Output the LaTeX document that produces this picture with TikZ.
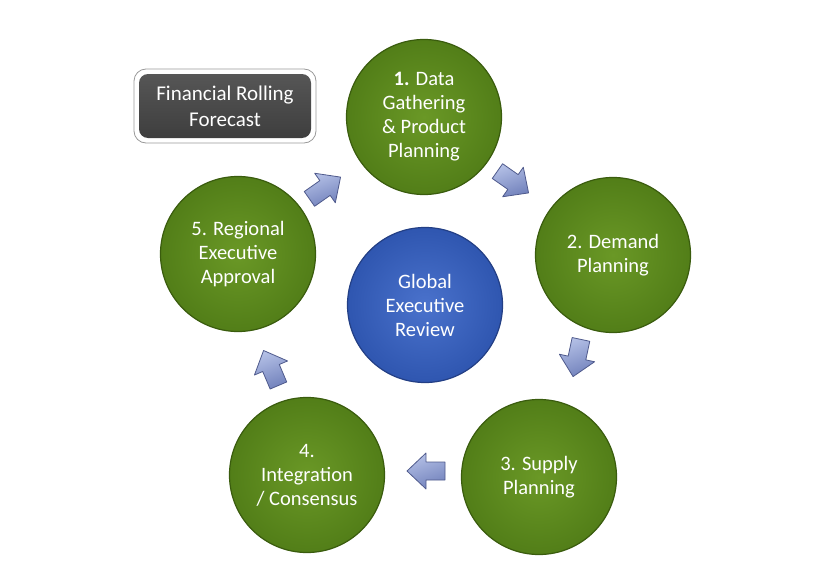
\documentclass[tikz,border=0pt]{standalone}
\usepackage{fontspec}
\setmainfont{Carlito}
\definecolor{grnin}{HTML}{6A9826}
\definecolor{grnout}{HTML}{527E18}
\definecolor{grnline}{HTML}{3A5C0E}
\definecolor{bluin}{HTML}{4A72CC}
\definecolor{bluout}{HTML}{2F56B0}
\definecolor{bluline}{HTML}{233F85}
\definecolor{arrlight}{HTML}{B4C0E6}
\definecolor{arrdark}{HTML}{7282BC}
\definecolor{arrline}{HTML}{4F5A8C}
\definecolor{boxdark}{HTML}{3E3E3E}
\definecolor{boxlight}{HTML}{565656}
\tikzset{
  stepcircle/.style={circle, minimum size=155pt, inner sep=0pt, align=center,
    text=white, font=\fontsize{20.5}{24}\selectfont,
    inner color=grnin, outer color=grnout, draw=grnline, line width=1.2pt},
  hubcircle/.style={stepcircle, inner color=bluin, outer color=bluout, draw=bluline},
  blockarrow/.pic={
    \draw[line width=0.8pt, draw=arrline, top color=arrlight, bottom color=arrdark, shading angle=20, line join=round]
      (-19,-9) -- (0,-9) -- (0,-18) -- (19,0) -- (0,18) -- (0,9) -- (-19,9) -- cycle;
  }
}
\begin{document}
\begin{tikzpicture}[x=1pt, y=-1pt]
\useasboundingbox (0,0) rectangle (840,578);
% steps
\node[stepcircle] (c1) at (424,117) {\textbf{1.} Data\\Gathering\\\& Product\\Planning};
\node[stepcircle] (c2) at (613,255) {2. Demand\\Planning};
\node[stepcircle] (c3) at (539,477) {3. Supply\\Planning};
\node[stepcircle] (c4) at (307,475) {4.\\Integration\\/ Consensus};
\node[stepcircle] (c5) at (238,254) {5. Regional\\Executive\\Approval};
\node[hubcircle] (hub) at (425,305) {Global\\Executive\\Review};
% box
\node[draw=gray!80, line width=0.8pt, fill=white, rounded corners=12pt,
      minimum width=182pt, minimum height=74pt] (boxout) at (225,106) {};
\node[rounded corners=9pt, top color=boxlight, bottom color=boxdark,
      minimum width=172pt, minimum height=64pt, align=center, text=white,
      font=\fontsize{21}{26}\selectfont] (box) at (boxout.center) {Financial Rolling\\Forecast};
% arrows
\coordinate (a12) at (513,182);
\coordinate (a23) at (577,358);
\coordinate (a34) at (426,471);
\coordinate (a45) at (271,368);
\coordinate (a51) at (325,188);
\pic[rotate=-35] at (a12) {blockarrow};
\pic[rotate=-102] at (a23) {blockarrow};
\pic[rotate=180] at (a34) {blockarrow};
\pic[rotate=113] at (a45) {blockarrow};
\pic[rotate=35] at (a51) {blockarrow};
\end{tikzpicture}
\end{document}
